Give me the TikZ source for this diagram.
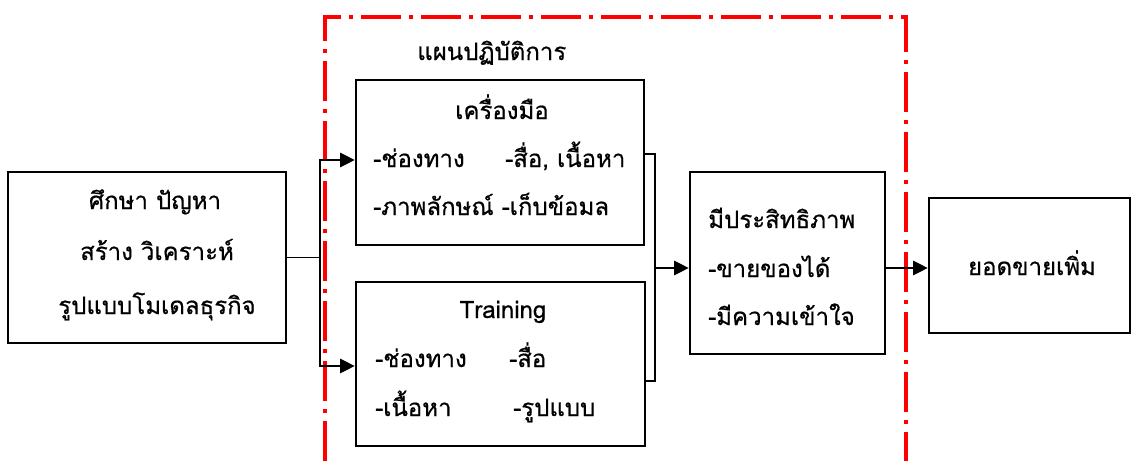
\documentclass[tikz,border=0pt]{standalone}
\usepackage{fontspec}
\setmainfont[Script=Thai,FakeBold=0.6]{Loma}
\usetikzlibrary{arrows.meta,calc}
\begin{document}
\begin{tikzpicture}[x=0.75pt,y=-0.75pt,
  box/.style={draw=black,line width=2pt,inner sep=0pt,fill=none},
  txt/.style={inner sep=0pt,font=\fontsize{18pt}{21pt}\selectfont},
  conn/.style={draw=black,line width=0.9pt},
  arr/.style={conn,-{Triangle[length=11pt,width=11pt]}},
  frame/.style={draw=red,line width=2.6pt,dash pattern=on 30pt off 6pt on 3pt off 6pt}]
\useasboundingbox (0,0) rectangle (1133,461);
% boxes
\node[box,minimum width=208.5pt,minimum height=128.25pt] (L) at (147,257.5) {};
\node[box,minimum width=216pt,minimum height=123.75pt] (B1) at (500,162.5) {};
\node[box,minimum width=216.75pt,minimum height=123pt] (B2) at (500.5,364) {};
\node[box,minimum width=146.25pt,minimum height=136.5pt] (B3) at (787.5,263) {};
\node[box,minimum width=150.75pt,minimum height=101.25pt] (B4) at (1029.5,265.5) {};
% dash-dot frame
\coordinate (f1) at (325,461);
\coordinate (f2) at (325,17);
\coordinate (f3) at (906,17);
\coordinate (f4) at (906,461);
\draw[frame] (f1) -- (f2) -- (f3) -- (f4);
% texts
\node[txt,anchor=base] (l1) at (155,209) {ศึกษา ปัญหา};
\node[txt,anchor=base] (l2) at (157,260) {สร้าง วิเคราะห์};
\node[txt,anchor=base] (l3) at (157,314) {รูปแบบโมเดลธุรกิจ};
\node[txt,anchor=base west] (plan) at (417,60) {แผนปฏิบัติการ};
\node[txt,anchor=base] (t1) at (502,119) {เครื่องมือ};
\node[txt,anchor=base west] (t2) at (373,167) {-ช่องทาง};
\node[txt,anchor=base west] (t3) at (505,167) {-สื่อ, เนื้อหา};
\node[txt,anchor=base west] (t4) at (373,215) {-ภาพลักษณ์ -เก็บข้อมล};
\node[txt,anchor=base] (s1) at (503,318) {Training};
\node[txt,anchor=base west] (s2) at (375,367) {-ช่องทาง};
\node[txt,anchor=base west] (s3) at (509,367) {-สื่อ};
\node[txt,anchor=base west] (s4) at (375,416) {-เนื้อหา};
\node[txt,anchor=base west] (s5) at (513,416) {-รูปแบบ};
\node[txt,anchor=base west] (e1) at (708,228) {มีประสิทธิภาพ};
\node[txt,anchor=base west] (e2) at (708,277) {-ขายของได้};
\node[txt,anchor=base west] (e3) at (708,325) {-มีความเข้าใจ};
\node[txt,anchor=base] (r1) at (1032,275) {ยอดขายเพิ่ม};
% connectors
\coordinate (jl) at (320,257.5);
\draw[conn] (L.east) -- (jl);
\draw[arr] (jl) |- ($(B1.west)+(0,-2.5)$);
\draw[arr] (jl) |- ($(B2.west)+(0,2)$);
\coordinate (b1) at (644,154);
\coordinate (b2) at (645,381);
\coordinate (jr) at (655,268);
\draw[conn] (b1) -- (b1 -| jr) -- (b2 -| jr) -- (b2);
\draw[arr] (jr) -- (jr -| B3.west);
\draw[arr] (jr -| B3.east) -- (jr -| B4.west);
\end{tikzpicture}
\end{document}
